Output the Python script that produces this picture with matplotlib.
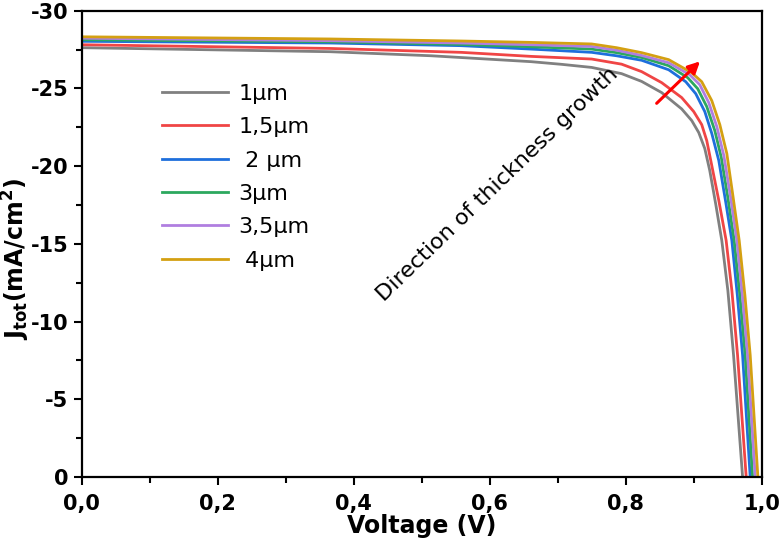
import matplotlib
matplotlib.use("Agg")
import matplotlib.pyplot as plt
from matplotlib.ticker import MultipleLocator, FixedLocator

# ---- data ----
labels = ["1\u03bcm", "1,5\u03bcm", " 2 \u03bcm", "3\u03bcm", "3,5\u03bcm", " 4\u03bcm"]
colors = ["#808080", "#f04545", "#1e6fdc", "#2ca85e", "#b07ee0", "#d4a012"]

V_1 = [0, 0.366, 0.514, 0.661, 0.7055, 0.750, 0.7940, 0.8235, 0.8530, 0.8824, 0.8972, 0.9075, 0.9164, 0.9237, 0.9326, 0.9414, 0.9503, 0.9587, 0.9720]
J_1 = [-27.62, -27.36, -27.10, -26.72, -26.55, -26.35, -25.95, -25.45, -24.73, -23.68, -22.93, -22.16, -21.13, -19.72, -17.53, -15.22, -12.01, -7.84, 0]

V_15 = [0, 0.366, 0.558, 0.661, 0.750, 0.7940, 0.8235, 0.8530, 0.8824, 0.9001, 0.9119, 0.9193, 0.9252, 0.9370, 0.9478, 0.9562, 0.9646, 0.9773]
J_15 = [-27.81, -27.57, -27.32, -27.06, -26.89, -26.56, -26.08, -25.37, -24.41, -23.51, -22.67, -21.64, -20.36, -17.79, -15.22, -12.01, -7.84, 0]

V_2 = [0, 0.366, 0.558, 0.661, 0.750, 0.7866, 0.8235, 0.8633, 0.8884, 0.9031, 0.9164, 0.9267, 0.9370, 0.9473, 0.9562, 0.9643, 0.9720, 0.9832]
J_2 = [-28.03, -27.92, -27.75, -27.53, -27.32, -27.10, -26.81, -26.20, -25.43, -24.66, -23.51, -22.10, -20.36, -17.66, -15.22, -11.69, -7.84, 0]

V_3 = [0, 0.366, 0.558, 0.661, 0.750, 0.7866, 0.8235, 0.8633, 0.8913, 0.9060, 0.9193, 0.9311, 0.9407, 0.9503, 0.9596, 0.9680, 0.9758, 0.9867]
J_3 = [-28.13, -28.00, -27.83, -27.68, -27.53, -27.30, -26.99, -26.46, -25.69, -24.98, -23.83, -22.29, -20.55, -17.98, -15.22, -11.69, -7.84, 0]

V_35 = [0, 0.366, 0.558, 0.661, 0.750, 0.7866, 0.8235, 0.8633, 0.8942, 0.9090, 0.9223, 0.9341, 0.9444, 0.9547, 0.9636, 0.9717, 0.9794, 0.9906]
J_35 = [-28.23, -28.07, -27.92, -27.81, -27.70, -27.46, -27.12, -26.65, -25.88, -25.24, -24.08, -22.54, -20.68, -17.92, -15.22, -11.69, -7.84, 0]

V_4 = [0, 0.366, 0.558, 0.661, 0.750, 0.7866, 0.8235, 0.8633, 0.8972, 0.9119, 0.9267, 0.9385, 0.9488, 0.9577, 0.9670, 0.9754, 0.9832, 0.9945]
J_4 = [-28.32, -28.18, -28.05, -27.96, -27.86, -27.62, -27.30, -26.85, -26.01, -25.43, -24.21, -22.67, -20.81, -18.11, -15.22, -11.69, -7.84, 0]

xticks = [0.0, 0.2, 0.4, 0.6, 0.8, 1.0]
xticklabels = ["0,0", "0,2", "0,4", "0,6", "0,8", "1,0"]
yticks = [0, -5, -10, -15, -20, -25, -30]
yticklabels = ["0", "-5", "-10", "-15", "-20", "-25", "-30"]

arrow_start = (0.8456, -24.04)
arrow_end = (0.9094, -26.74)
annot_text = "Direction of thickness growth"
annot_pos = (0.611, -18.8)

# ---- plot ----
plt.rcParams['font.family'] = ['DejaVu Sans']
fig = plt.figure(figsize=(7.79, 5.40), dpi=100)
ax = fig.add_axes([0.1049, 0.1167, 0.9777 - 0.1049, 0.9802 - 0.1167])

series = [(V_1, J_1), (V_15, J_15), (V_2, J_2), (V_3, J_3), (V_35, J_35), (V_4, J_4)]
for (v, j), lab, c in zip(series, labels, colors):
    ax.plot(v, j, color=c, lw=2.0, label=lab, solid_joinstyle='round')

ax.set_xlim(0, 1.0)
ax.set_ylim(0, -30)

ax.xaxis.set_major_locator(FixedLocator(xticks))
ax.set_xticklabels(xticklabels)
ax.yaxis.set_major_locator(FixedLocator(yticks))
ax.set_yticklabels(yticklabels)
ax.xaxis.set_minor_locator(MultipleLocator(0.1))
ax.yaxis.set_minor_locator(MultipleLocator(2.5))

ax.tick_params(which='major', direction='out', length=6, width=1.5,
               labelsize=15, top=False, right=False)
ax.tick_params(axis='x', which='major', pad=6)
ax.tick_params(which='minor', direction='out', length=4, width=1.5,
               top=False, right=False)
for lab in ax.get_xticklabels() + ax.get_yticklabels():
    lab.set_fontweight('bold')
for sp in ax.spines.values():
    sp.set_linewidth(1.6)

ax.set_xlabel("Voltage (V)", fontsize=17, fontweight='bold', labelpad=0)
ax.set_ylabel(r"$\mathbf{J_{tot}(mA/cm^2)}$", fontsize=17)
ax.yaxis.set_label_coords(-0.073, 0.467)

leg = ax.legend(loc='upper left', bbox_to_anchor=(0.088, 0.886), frameon=False,
                fontsize=16, handlelength=3.0, handletextpad=0.45,
                labelspacing=0.6, borderpad=0.4)

ax.annotate("", xy=arrow_end, xytext=arrow_start,
            arrowprops=dict(arrowstyle='-|>,head_length=0.7,head_width=0.35',
                            color='red', lw=2.2, shrinkA=0, shrinkB=0))
ax.text(annot_pos[0], annot_pos[1], annot_text, rotation=44, fontsize=16,
        ha='center', va='center', rotation_mode='anchor')

fig.savefig("out.png", dpi=100)
